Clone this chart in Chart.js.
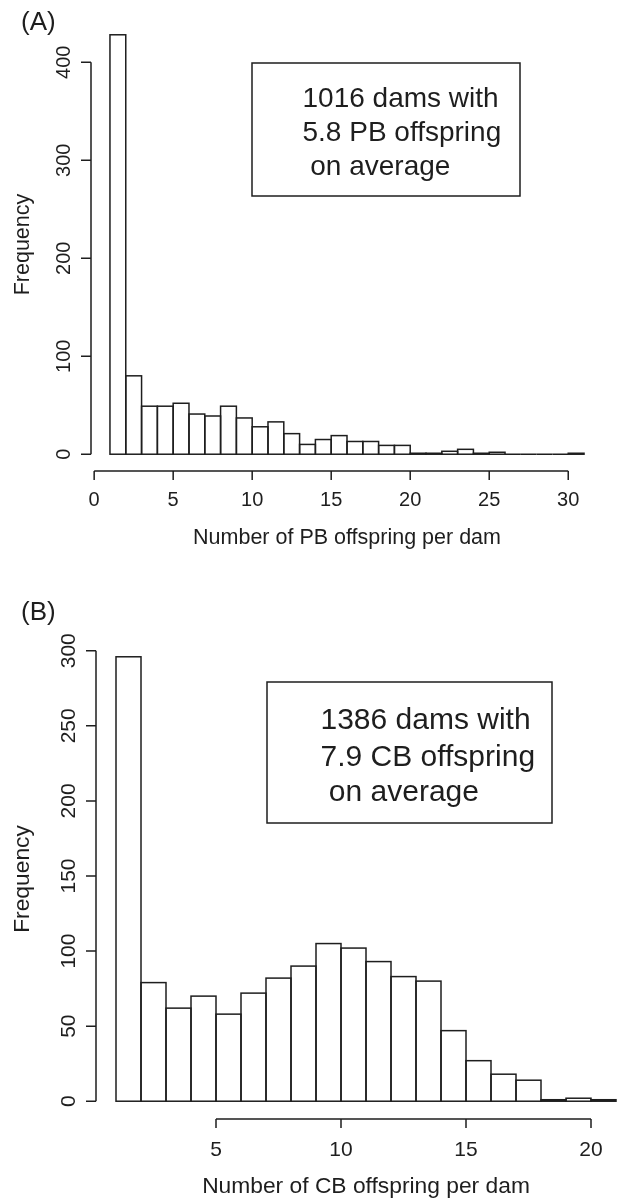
<!DOCTYPE html>
<html>
<head>
<meta charset="utf-8">
<script src="https://cdn.jsdelivr.net/npm/chart.js@4.4.1/dist/chart.umd.min.js"></script>
<style>
  html, body { margin: 0; padding: 0; background: #fff; overflow: hidden; }
  canvas { position: absolute; left: 0; display: block; }
  #chartA { top: 0; }
  #chartB { top: 600px; }
</style>
</head>
<body>
<canvas id="chartA" width="622" height="600"></canvas>
<!-- the right edge of this plot region runs past the page -->
<canvas id="chartB" width="636" height="601"></canvas>
<script>
// purebred offspring per dam, unit-wide bins starting at 1
const pbBinStart = 1
const pbCounts = [428, 80, 49, 49, 52, 41, 39, 49, 37, 28, 33, 21, 10, 15, 19, 13, 13, 9, 9, 1, 1, 3, 5, 1, 2, 0, 0, 0, 0, 1]
const pbXTicks = [0, 5, 10, 15, 20, 25, 30]
const pbYTicks = [0, 100, 200, 300, 400]
const pbNote = ["1016 dams with", "5.8 PB offspring", " on average"]

// crossbred offspring per dam
const cbBinStart = 1
const cbCounts = [296, 79, 62, 70, 58, 72, 82, 90, 105, 102, 93, 83, 80, 47, 27, 18, 14, 1, 2, 1]
const cbXTicks = [5, 10, 15, 20]
const cbYTicks = [0, 50, 100, 150, 200, 250, 300]
const cbNote = ["1386 dams with", "7.9 CB offspring", " on average"]

const INK = "#1e1e1e"
const FONT = "'Liberation Sans', Arial, Helvetica, sans-serif"

// base-graphics look: outlined bins, detached axes, rotated y labels
const histAxes = {
  id: "histAxes",
  afterDatasetsDraw(chart, args, o) {
    const { ctx, chartArea } = chart
    const x = chart.scales.x
    const y = chart.scales.y
    ctx.save()
    ctx.strokeStyle = INK
    ctx.fillStyle = INK
    ctx.lineWidth = 1.5

    // bin outlines
    chart.getDatasetMeta(0).data.forEach(bar => {
      const p = bar.getProps(["x", "y", "base", "width"], true)
      ctx.strokeRect(p.x - p.width / 2, p.y, p.width, p.base - p.y)
    })

    // y axis
    const ax = chartArea.left
    const yt = o.yTicks
    ctx.beginPath()
    ctx.moveTo(ax, y.getPixelForValue(yt[0]))
    ctx.lineTo(ax, y.getPixelForValue(yt[yt.length - 1]))
    yt.forEach(v => {
      const py = y.getPixelForValue(v)
      ctx.moveTo(ax, py)
      ctx.lineTo(ax - 10, py)
    })
    ctx.stroke()
    ctx.font = o.tickSize + "px " + FONT
    ctx.textAlign = "center"
    ctx.textBaseline = "alphabetic"
    yt.forEach(v => {
      ctx.save()
      ctx.translate(ax - 21, y.getPixelForValue(v))
      ctx.rotate(-Math.PI / 2)
      ctx.fillText(String(v), 0, 0)
      ctx.restore()
    })

    // x axis
    const ay = chartArea.bottom
    const xt = o.xTicks
    ctx.beginPath()
    ctx.moveTo(x.getPixelForValue(xt[0]), ay)
    ctx.lineTo(x.getPixelForValue(xt[xt.length - 1]), ay)
    xt.forEach(v => {
      const px = x.getPixelForValue(v)
      ctx.moveTo(px, ay)
      ctx.lineTo(px, ay + 9)
    })
    ctx.stroke()
    xt.forEach(v => ctx.fillText(String(v), x.getPixelForValue(v), ay + o.tickGap))

    // axis titles
    ctx.font = o.titleSize + "px " + FONT
    ctx.fillText(o.xTitle, x.getPixelForValue(o.binMid), ay + o.titleGap)
    ctx.save()
    ctx.translate(29, (chartArea.top + chartArea.bottom) / 2)
    ctx.rotate(-Math.PI / 2)
    ctx.fillText("Frequency", 0, 0)
    ctx.restore()

    // panel tag
    ctx.textAlign = "left"
    ctx.font = "26px " + FONT
    ctx.fillText(o.tag, 21, o.tagY)

    // summary box
    const b = o.box
    ctx.strokeRect(b.left, b.top, b.right - b.left, b.bottom - b.top)
    ctx.font = b.size + "px " + FONT
    o.note.forEach((line, i) => ctx.fillText(line, b.textX, b.lines[i]))
    ctx.restore()
  }
}

function histogram(id, binStart, counts, extra) {
  const binEnd = binStart + counts.length
  const xPad = 0.04 * (binEnd - binStart)
  const yMax = Math.max(...counts)
  return new Chart(document.getElementById(id), {
    type: "bar",
    data: {
      datasets: [{
        data: counts.map((c, i) => ({ x: binStart + i + 0.5, y: c })),
        backgroundColor: "#ffffff",
        borderWidth: 0,
        barPercentage: 1,
        categoryPercentage: 1
      }]
    },
    options: {
      responsive: false,
      animation: false,
      devicePixelRatio: 1,
      layout: { padding: extra.padding },
      plugins: {
        legend: { display: false },
        tooltip: { enabled: false },
        histAxes: Object.assign({ binMid: (binStart + binEnd) / 2 }, extra)
      },
      scales: {
        x: { type: "linear", display: false, offset: false, min: binStart - xPad, max: binEnd + xPad },
        y: { display: false, min: -0.04 * yMax, max: 1.04 * yMax }
      }
    },
    plugins: [histAxes]
  })
}

histogram("chartA", pbBinStart, pbCounts, {
  padding: { left: 91, right: 19, top: 18, bottom: 129 },
  xTicks: pbXTicks,
  yTicks: pbYTicks,
  xTitle: "Number of PB offspring per dam",
  tickSize: 20,
  titleSize: 21.5,
  tickGap: 35,
  titleGap: 73,
  tag: "(A)",
  tagY: 29.5,
  note: pbNote,
  box: { left: 252, top: 63, right: 520, bottom: 196, size: 28, textX: 302.5, lines: [107, 141, 175] }
})

histogram("chartB", cbBinStart, cbCounts, {
  padding: { left: 96, right: 0, top: 39, bottom: 82 },
  xTicks: cbXTicks,
  yTicks: cbYTicks,
  xTitle: "Number of CB offspring per dam",
  tickSize: 21,
  titleSize: 22.8,
  tickGap: 37,
  titleGap: 74,
  tag: "(B)",
  tagY: 20,
  note: cbNote,
  box: { left: 267, top: 82, right: 552, bottom: 223, size: 30, textX: 320.5, lines: [129, 166, 201] }
})
</script>
</body>
</html>
